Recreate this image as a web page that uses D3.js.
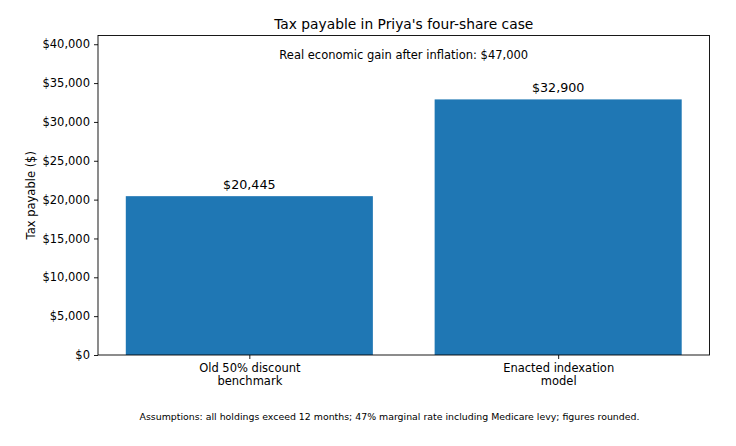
<!DOCTYPE html>
<html><head><meta charset="utf-8">
<script src="https://cdn.jsdelivr.net/npm/d3@7"></script>
<style>body{margin:0;background:#fff}svg{display:block}text{font-family:"DejaVu Sans",sans-serif;fill:#000}</style>
</head><body><svg id="c" width="736" height="446"></svg>
<script>
const categories = [["Old 50% discount","benchmark"],["Enacted indexation","model"]];
const values = [20445, 32900];
const valueLabels = ["$20,445", "$32,900"];
const yTicks = [0,5000,10000,15000,20000,25000,30000,35000,40000];
const title = "Tax payable in Priya's four-share case";
const yLabel = "Tax payable ($)";
const note = "Real economic gain after inflation: $47,000";
const footnote = "Assumptions: all holdings exceed 12 months; 47% marginal rate including Medicare levy; figures rounded.";

const svg = d3.select("#c");
const L=98, R=709.5, T=35.5, B=355;
const x = d3.scaleLinear().domain([-0.49,1.49]).range([L,R]);
const y = d3.scaleLinear().domain([0, d3.max(values)*1.25]).range([B,T]);
const bw = 0.8;

svg.append("g").selectAll("rect").data(values).join("rect")
  .attr("x",(d,i)=>x(i-bw/2)).attr("width",(d,i)=>x(i+bw/2)-x(i-bw/2))
  .attr("y",d=>y(d)).attr("height",d=>B-y(d)).attr("fill","#1f77b4");

svg.append("g").selectAll("text").data(values).join("text")
  .attr("x",(d,i)=>x(i)).attr("y",d=>y(d)-7).attr("text-anchor","middle")
  .attr("font-size","12.7px").text((d,i)=>valueLabels[i]);

const ya = svg.append("g").attr("transform",`translate(${L},0)`)
  .call(d3.axisLeft(y).tickValues(yTicks).tickSize(4).tickPadding(4).tickFormat(d=>"$"+d3.format(",")(d)));
ya.select(".domain").remove();
ya.selectAll("text").attr("font-size","11.5px").attr("font-family","DejaVu Sans");
ya.selectAll("line").attr("stroke","#000").attr("stroke-width",0.9);

const xa = svg.append("g").attr("transform",`translate(0,${B})`)
  .call(d3.axisBottom(x).tickValues([0,1]).tickSize(4).tickPadding(4).tickFormat(""));
xa.select(".domain").remove();
xa.selectAll("line").attr("stroke","#000").attr("stroke-width",0.9);
xa.selectAll(".tick").each(function(d,i){
  const t = d3.select(this).append("text").attr("fill","#000").attr("text-anchor","middle")
    .attr("font-size","11.5px").attr("font-family","DejaVu Sans").attr("y",17);
  categories[i].forEach((ln,k)=>t.append("tspan").attr("x",0).attr("dy",k?"13.3px":0).text(ln));
});

svg.append("rect").attr("x",L).attr("y",T).attr("width",R-L).attr("height",B-T)
  .attr("fill","none").attr("stroke","#000").attr("stroke-width",0.9);

svg.append("text").attr("x",(L+R)/2).attr("y",T-7).attr("text-anchor","middle")
  .attr("font-size","13.8px").text(title);
svg.append("text").attr("x",(L+R)/2).attr("y",58.5).attr("text-anchor","middle")
  .attr("font-size","11.5px").text(note);
svg.append("text").attr("transform",`translate(35,${(T+B)/2}) rotate(-90)`).attr("text-anchor","middle")
  .attr("font-size","11.5px").text(yLabel);
svg.append("text").attr("x",389.5).attr("y",419.5).attr("text-anchor","middle")
  .attr("font-size","9.4px").text(footnote);
</script></body></html>
